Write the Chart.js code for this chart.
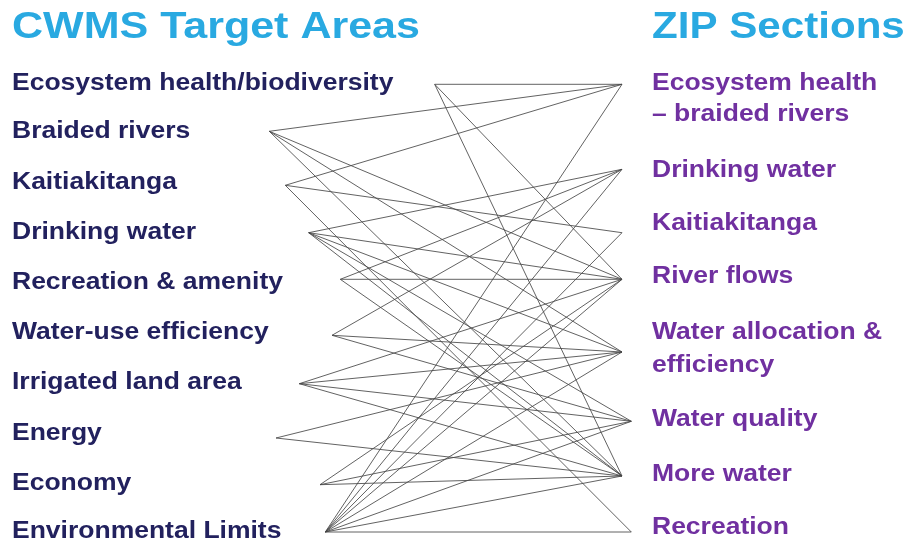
<!DOCTYPE html>
<html>
<head>
<meta charset="utf-8">
<script src="https://cdn.jsdelivr.net/npm/chart.js@4/dist/chart.umd.min.js"></script>
<style>
  html, body { margin: 0; padding: 0; background: #ffffff; }
  #wrap { width: 911px; height: 542px; }
</style>
</head>
<body>
<div id="wrap"><canvas id="c" width="911" height="542"></canvas></div>
<script>
// ---------- data ----------
const leftTitle = "CWMS Target Areas";
const rightTitle = "ZIP Sections";

const leftLabels = [
  "Ecosystem health/biodiversity",
  "Braided rivers",
  "Kaitiakitanga",
  "Drinking water",
  "Recreation & amenity",
  "Water-use efficiency",
  "Irrigated land area",
  "Energy",
  "Economy",
  "Environmental Limits"
];
const rightLabels = [
  ["Ecosystem health", "\u2013 braided rivers"],
  ["Drinking water"],
  ["Kaitiakitanga"],
  ["River flows"],
  ["Water allocation &", "efficiency"],
  ["Water quality"],
  ["More water"],
  ["Recreation"]
];

// link anchor points (in picture units)
const leftNodeX  = [434.7, 269.3, 285.3, 308.7, 340.3, 332.0, 299.3, 276.0, 320.0, 325.3];
const leftNodeY  = [84.3, 131.3, 185.3, 232.7, 279.3, 335.3, 383.7, 438.0, 484.7, 532.0];
const rightNodeX = [622.0, 622.0, 622.0, 622.0, 622.0, 631.3, 622.0, 631.3];
const rightNodeY = [84.3, 169.3, 232.7, 279.3, 352.0, 421.3, 476.0, 532.0];

// links: [target area index, ZIP section index]
const links = [
  [0,0],[0,3],[0,6],
  [1,0],[1,3],[1,4],[1,6],
  [2,0],[2,2],[2,7],
  [3,1],[3,3],[3,4],[3,5],[3,6],
  [4,1],[4,3],[4,6],
  [5,1],[5,4],[5,5],
  [6,3],[6,4],[6,5],[6,6],
  [7,4],[7,6],
  [8,3],[8,5],[8,6],
  [9,0],[9,1],[9,2],[9,3],[9,4],[9,5],[9,6],[9,7]
];

// ---------- layout (text placement) ----------
const layout = {
  titleBaseline: 38,
  leftX: 12,
  rightX: 652,
  leftBaselines: [90, 138, 189, 239, 289, 339, 389, 440, 490, 538],
  rightBaselines: [[90, 121], [177], [230], [283], [339, 372], [426], [481], [534]],
  titleFont: "bold 36px 'Liberation Sans', Arial, sans-serif",
  labelFont: "bold 23px 'Liberation Sans', Arial, sans-serif",
  leftTitleStretch: 1.195,
  rightTitleStretch: 1.17,
  labelStretch: 1.152,
  titleColor: "#29a9e1",
  leftColor: "#22215e",
  rightColor: "#7030a0"
};

const datasets = links.map(([l, r]) => ({
  data: [{x: leftNodeX[l], y: leftNodeY[l]}, {x: rightNodeX[r], y: rightNodeY[r]}],
  showLine: true,
  borderColor: "rgba(70,70,70,0.85)",
  borderWidth: 1,
  pointRadius: 0,
  pointHoverRadius: 0,
  fill: false,
  tension: 0
}));

const textPlugin = {
  id: "textLabels",
  afterDraw(chart) {
    const ctx = chart.ctx;
    const xs = chart.scales.x, ys = chart.scales.y;
    function put(str, x, y, font, color, stretch) {
      ctx.save();
      ctx.font = font;
      ctx.fillStyle = color;
      ctx.textBaseline = "alphabetic";
      ctx.textAlign = "left";
      ctx.translate(xs.getPixelForValue(x), ys.getPixelForValue(y));
      ctx.scale(stretch, 1);
      ctx.fillText(str, 0, 0);
      ctx.restore();
    }
    put(leftTitle, layout.leftX, layout.titleBaseline, layout.titleFont, layout.titleColor, layout.leftTitleStretch);
    put(rightTitle, layout.rightX, layout.titleBaseline, layout.titleFont, layout.titleColor, layout.rightTitleStretch);
    leftLabels.forEach((t, i) => put(t, layout.leftX, layout.leftBaselines[i], layout.labelFont, layout.leftColor, layout.labelStretch));
    rightLabels.forEach((lines, i) => lines.forEach((t, j) =>
      put(t, layout.rightX, layout.rightBaselines[i][j], layout.labelFont, layout.rightColor, layout.labelStretch)));
  }
};

new Chart(document.getElementById("c"), {
  type: "scatter",
  data: { datasets },
  options: {
    responsive: false,
    maintainAspectRatio: false,
    animation: false,
    devicePixelRatio: 1,
    layout: { padding: 0 },
    events: [],
    plugins: { legend: { display: false }, tooltip: { enabled: false } },
    scales: {
      x: { type: "linear", min: 0, max: 911, display: false },
      y: { type: "linear", min: 0, max: 542, reverse: true, display: false }
    }
  },
  plugins: [textPlugin]
});
</script>
</body>
</html>
